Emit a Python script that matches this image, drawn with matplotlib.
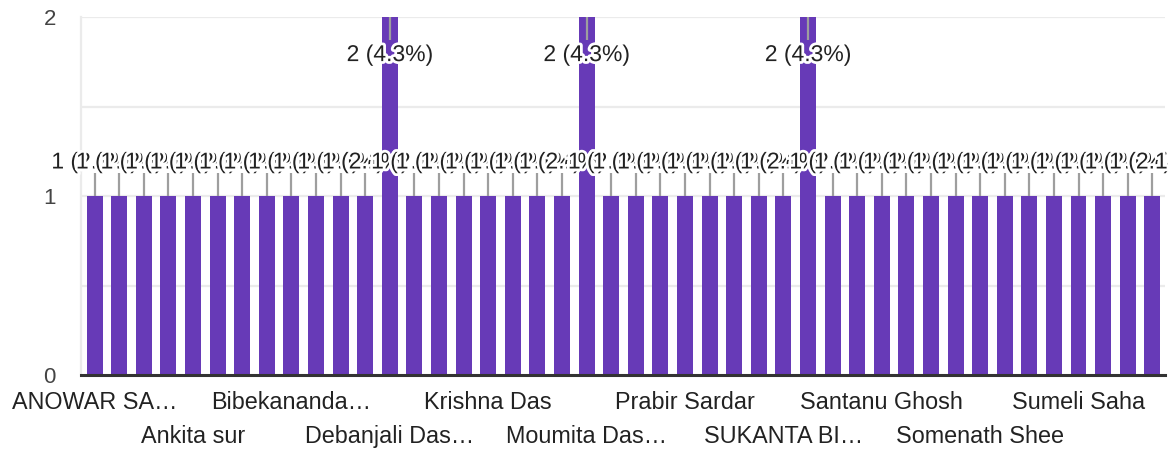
import matplotlib
matplotlib.use("Agg")
import matplotlib.pyplot as plt
import matplotlib.patheffects as pe
from matplotlib.transforms import blended_transform_factory, offset_copy

# ---- data ----
counts = [1, 1, 1, 1, 1, 1, 1, 1, 1, 1, 1, 1,
          2,
          1, 1, 1, 1, 1, 1, 1,
          2,
          1, 1, 1, 1, 1, 1, 1, 1,
          2,
          1, 1, 1, 1, 1, 1, 1, 1, 1, 1, 1, 1, 1, 1]
tick_labels = ["ANOWAR SA…", "Ankita sur", "Bibekananda…", "Debanjali Das…",
               "Krishna Das", "Moumita Das…", "Prabir Sardar", "SUKANTA BI…",
               "Santanu Ghosh", "Somenath Shee", "Sumeli Saha"]
tick_step = 4
y_ticks = [0, 1, 2]

# ---- style ----
plt.rcParams['font.family'] = ['Liberation Sans', 'DejaVu Sans']
BAR = "#673ab7"
GRID = "#ebebeb"

fig = plt.figure(figsize=(11.68, 4.5), dpi=100)
ax = fig.add_axes([81 / 1168, 1 - 375 / 450, (1164.6 - 81) / 1168, (375 - 17) / 450])

n = len(counts)
xs = list(range(n))
ymax = 2
total = sum(counts)

ax.bar(xs, counts, width=0.65, color=BAR, zorder=2)
ax.set_xlim(-0.55, n - 0.5)
ax.set_ylim(0, ymax)

# grid lines
for g in [0.5, 1.0, 1.5, 2.0]:
    ax.axhline(g, color=GRID, lw=1.6, zorder=0.5)

for s in ['top', 'right']:
    ax.spines[s].set_visible(False)
ax.spines['left'].set_color(GRID)
ax.spines['left'].set_linewidth(1.6)
ax.spines['bottom'].set_color("#333333")
ax.spines['bottom'].set_linewidth(2.2)
ax.spines['bottom'].set_zorder(5)

ax.set_yticks(y_ticks)
ax.set_yticklabels([str(t) for t in y_ticks])
ax.tick_params(axis='y', length=0, pad=18, labelsize=16, labelcolor="#444444")
ax.set_xticks([])

# x labels, alternating rows
trans = blended_transform_factory(ax.transData, ax.transAxes)
for k, lab in enumerate(tick_labels):
    xi = k * tick_step
    off = -20 if k % 2 == 0 else -44
    t = offset_copy(trans, fig=fig, x=0, y=off, units='points')
    ax.text(xi, 0, lab, transform=t, ha='center', va='center',
            fontsize=16.8, color="#222222")

# annotations with stems
stroke = [pe.withStroke(linewidth=4, foreground="white")]
for i, c in enumerate(counts):
    pct = c / total * 100
    label = f"{c} ({pct:.1f}%)"
    if c >= ymax:
        ax.plot([i, i], [ymax, 1.87], color="#9e9e9e", lw=1.6, zorder=3,
                solid_capstyle='butt')
        ty = 1.79
    else:
        ax.plot([i, i], [c, c + 0.128], color="#9e9e9e", lw=1.6, zorder=3,
                solid_capstyle='butt')
        ty = c + 0.19
    ax.text(i, ty, label, ha='center', va='center', fontsize=16.5,
            color="#222222", zorder=4, path_effects=stroke, clip_on=False)

fig.savefig("out.png", dpi=100)
